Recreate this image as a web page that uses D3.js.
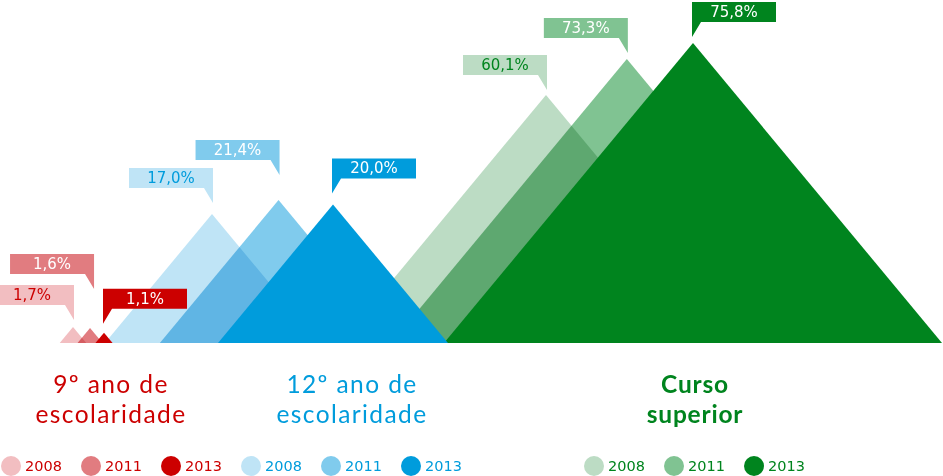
<!DOCTYPE html>
<html>
<head>
<meta charset="utf-8">
<script src="https://cdn.jsdelivr.net/npm/d3@7"></script>
<style>
  body { margin: 0; background: #fff; }
</style>
</head>
<body>
<div id="chart"></div>
<script>
// data
var groups = ["basico", "secundario", "superior"];
var groupNames = [["9º ano de", "escolaridade"], ["12º ano de", "escolaridade"], ["Curso", "superior"]];
var years = [2008, 2011, 2013];
var basico = [1.7, 1.6, 1.1];
var secundario = [17.0, 21.4, 20.0];
var superior = [60.1, 73.3, 75.8];

var values = { basico: basico, secundario: secundario, superior: superior };

// dimensions
var width = 943,
    height = 476,
    baseline = 343;

var svg = d3.select("#chart")
  .append("svg")
    .attr("width", width)
    .attr("height", height)
    .style("font-family", "'DejaVu Sans', sans-serif");

// colours per group and year
var palette = {
  basico:     { main: "#cc0000", fills: ["#f2bec1", "#e17c80", "#cc0000"] },
  secundario: { main: "#009cdc", fills: ["#bfe4f6", "#80cbed", "#009cdc"] },
  superior:   { main: "#00841e", fills: ["#bcdcc4", "#80c392", "#00841e"] }
};

// the heights are not proportional in the infographic, so a piecewise scale
var y = d3.scaleLinear()
  .domain([0, 1.7, 17, 21.4, 60.1, 73.3, 75.8])
  .range([baseline, 327, 214, 200, 95, 59, 43]);

// horizontal place of each group, then each year inside it
var groupSpan = d3.scaleOrdinal()
  .domain(groups)
  .range([[73, 104], [212, 333], [546, 693]]);
var yearPos = d3.scaleLinear()
  .domain([2008, 2011, 2013])
  .range([0, 0.55, 1]);
function peakX(g, yr) {
  var s = groupSpan(g);
  return s[0] + yearPos(yr) * (s[1] - s[0]);
}

var slope = 0.83; // half width / height

var fmt = d3.formatLocale({decimal: ",", thousands: ".", grouping: [3], currency: ["", "€"]}).format(".1f");

// flatten
var rows = [];
groups.forEach(function(g) {
  years.forEach(function(yr, i) {
    rows.push({group: g, year: yr, i: i, value: values[g][i]});
  });
});

// draw green first, then blue, then red on top
var order = groups.slice().reverse();
order.forEach(function(g) {
  var layer = svg.append("g");
  layer.selectAll("path")
    .data(rows.filter(function(d) { return d.group == g; }))
    .enter()
    .append("path")
      .attr("d", function(d) {
        var px = peakX(d.group, d.year), py = y(d.value), hw = slope * (baseline - py);
        return "M" + (px - hw) + "," + baseline + "L" + px + "," + py + "L" + (px + hw) + "," + baseline + "Z";
      })
      .attr("fill", function(d) { return palette[d.group].fills[d.i]; })
      .style("mix-blend-mode", function(d) { return d.i == 1 ? "multiply" : null; });
});

// callouts: how far above the peak the pointer stops
var lift = {
  "basico-2008": 7, "basico-2011": 39, "basico-2013": 9,
  "secundario-2008": 11, "secundario-2011": 25, "secundario-2013": 11,
  "superior-2008": 5, "superior-2011": 6, "superior-2013": 6
};
var boxW = 84, boxH = 20, tailH = 15, tailW = 9;

function tipX(d) {
  var right = d.year == 2013;
  return peakX(d.group, d.year) + (right ? -1 : 1) + (d.group == "basico" && d.i == 1 ? 3 : 0);
}

var callouts = svg.append("g")
  .selectAll("g")
  .data(rows)
  .enter()
  .append("g");

callouts.append("path")
  .attr("d", function(d) {
    var right = d.year == 2013;
    var tx = tipX(d);
    var ty = y(d.value) - lift[d.group + "-" + d.year];
    var bb = ty - tailH, bt = bb - boxH;
    if (right) {
      return "M" + tx + "," + ty + "L" + tx + "," + bt + "L" + (tx + boxW) + "," + bt +
             "L" + (tx + boxW) + "," + bb + "L" + (tx + tailW) + "," + bb + "Z";
    }
    return "M" + tx + "," + ty + "L" + tx + "," + bt + "L" + (tx - boxW) + "," + bt +
           "L" + (tx - boxW) + "," + bb + "L" + (tx - tailW) + "," + bb + "Z";
  })
  .attr("fill", function(d) { return palette[d.group].fills[d.i]; });

callouts.append("text")
  .attr("x", function(d) { return d.year == 2013 ? tipX(d) + boxW / 2 : tipX(d) - boxW / 2; })
  .attr("y", function(d) { return y(d.value) - lift[d.group + "-" + d.year] - tailH - boxH / 2; })
  .attr("text-anchor", "middle")
  .attr("dominant-baseline", "central")
  .style("font-size", "15px")
  .attr("fill", function(d) { return d.i == 0 ? palette[d.group].main : "#fff"; })
  .text(function(d) { return fmt(d.value) + "%"; });

// group names under the baseline, one text per line
var nameX = d3.scaleOrdinal().domain(groups).range([111, 352, 695]);
var nameLines = [];
groups.forEach(function(g, i) {
  groupNames[i].forEach(function(t, j) { nameLines.push({g: g, t: t, line: j}); });
});
svg.append("g")
  .selectAll("text")
  .data(nameLines)
  .enter()
  .append("text")
    .attr("x", function(d) { return nameX(d.g); })
    .attr("y", function(d) { return 393 + d.line * 30; })
    .attr("text-anchor", "middle")
    .style("font-family", "Lato, sans-serif")
    .style("font-size", "24.5px")
    .style("letter-spacing", function(d) { return d.g == "superior" ? "0.8px" : "1.4px"; })
    .style("font-weight", function(d) { return d.g == "superior" ? 700 : 400; })
    .attr("fill", function(d) { return palette[d.g].main; })
    .text(function(d) { return d.t; });

// legend
var legendX = d3.scaleOrdinal().domain(groups).range([11, 251, 594]);
var legend = svg.append("g")
  .selectAll("g")
  .data(rows)
  .enter()
  .append("g")
    .attr("transform", function(d) { return "translate(" + (legendX(d.group) + d.i * 80) + ",466)"; });
legend.append("circle")
  .attr("r", 10)
  .attr("fill", function(d) { return palette[d.group].fills[d.i]; });
legend.append("text")
  .attr("x", 14)
  .attr("dominant-baseline", "central")
  .style("font-size", "14.5px")
  .attr("fill", function(d) { return palette[d.group].main; })
  .text(function(d) { return d.year; });
</script>
</body>
</html>
